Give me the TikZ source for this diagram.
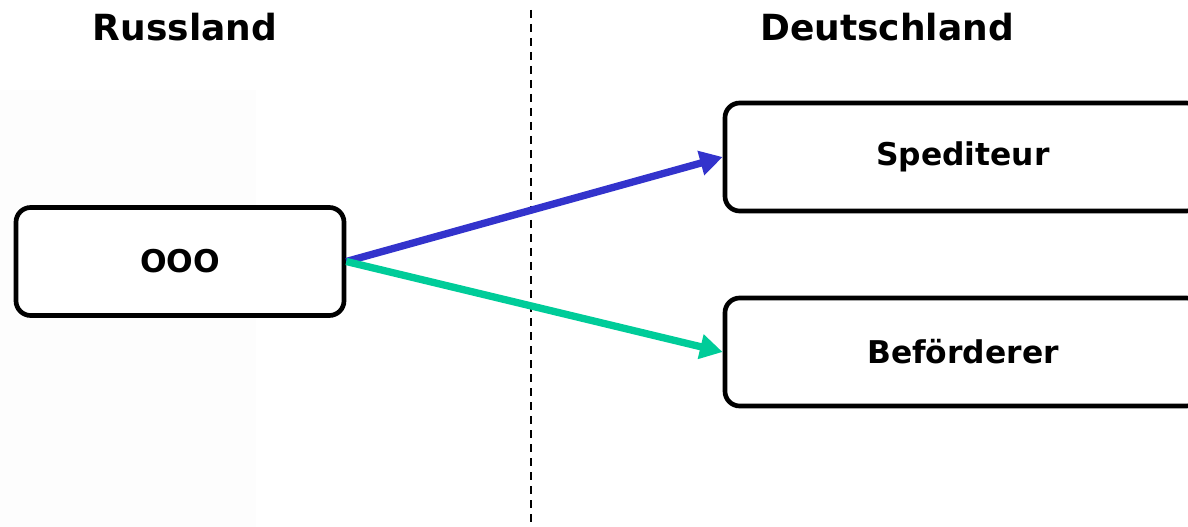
\documentclass[tikz,border=0pt]{standalone}
\usepackage{fontspec}
\setmainfont{DejaVu Sans}
\usetikzlibrary{arrows.meta}
\definecolor{flowblue}{RGB}{51,51,204}
\definecolor{flowgreen}{RGB}{0,204,153}
\definecolor{paneback}{RGB}{253,253,253}
\begin{document}
\begin{tikzpicture}[x=0.75pt,y=0.75pt,yscale=-1,xscale=1,
  partybox/.style={draw,line width=3.5pt,rounded corners=11pt,fill=white,
    minimum width=246pt,minimum height=81pt,
    font=\fontsize{23.5}{28}\selectfont\bfseries},
  countrytitle/.style={font=\fontsize{27}{32}\selectfont\bfseries},
  flowarrow/.style={line width=5.5pt,-{Triangle[length=17pt,width=18pt]}}]
\useasboundingbox (0,0) rectangle (1188,527);

%Shape: Rectangle (background)
\fill [paneback] (0,90) rectangle (256,527);

%Straight Lines (border)
\coordinate (bordertop) at (531,10);
\coordinate (borderbot) at (531,522);
\draw [line width=1.5pt,dash pattern={on 6pt off 4.5pt}] (bordertop) -- (borderbot);

% Text Node
\node [countrytitle] (russland) at (185,27) {Russland};
% Text Node
\node [countrytitle] (deutschland) at (887,27) {Deutschland};

% Boxes
\node [partybox] (ooo) at (180,261.5) {OOO};
\node [partybox,minimum width=357pt] (spediteur) at (963,157) {Spediteur};
\node [partybox,minimum width=357pt] (befoerderer) at (963,352) {Beförderer};

%Straight Lines
\draw [flowarrow,flowblue] (ooo.east) -- (spediteur.west);
\draw [flowarrow,flowgreen] (ooo.east) -- (befoerderer.west);

\end{tikzpicture}
\end{document}
